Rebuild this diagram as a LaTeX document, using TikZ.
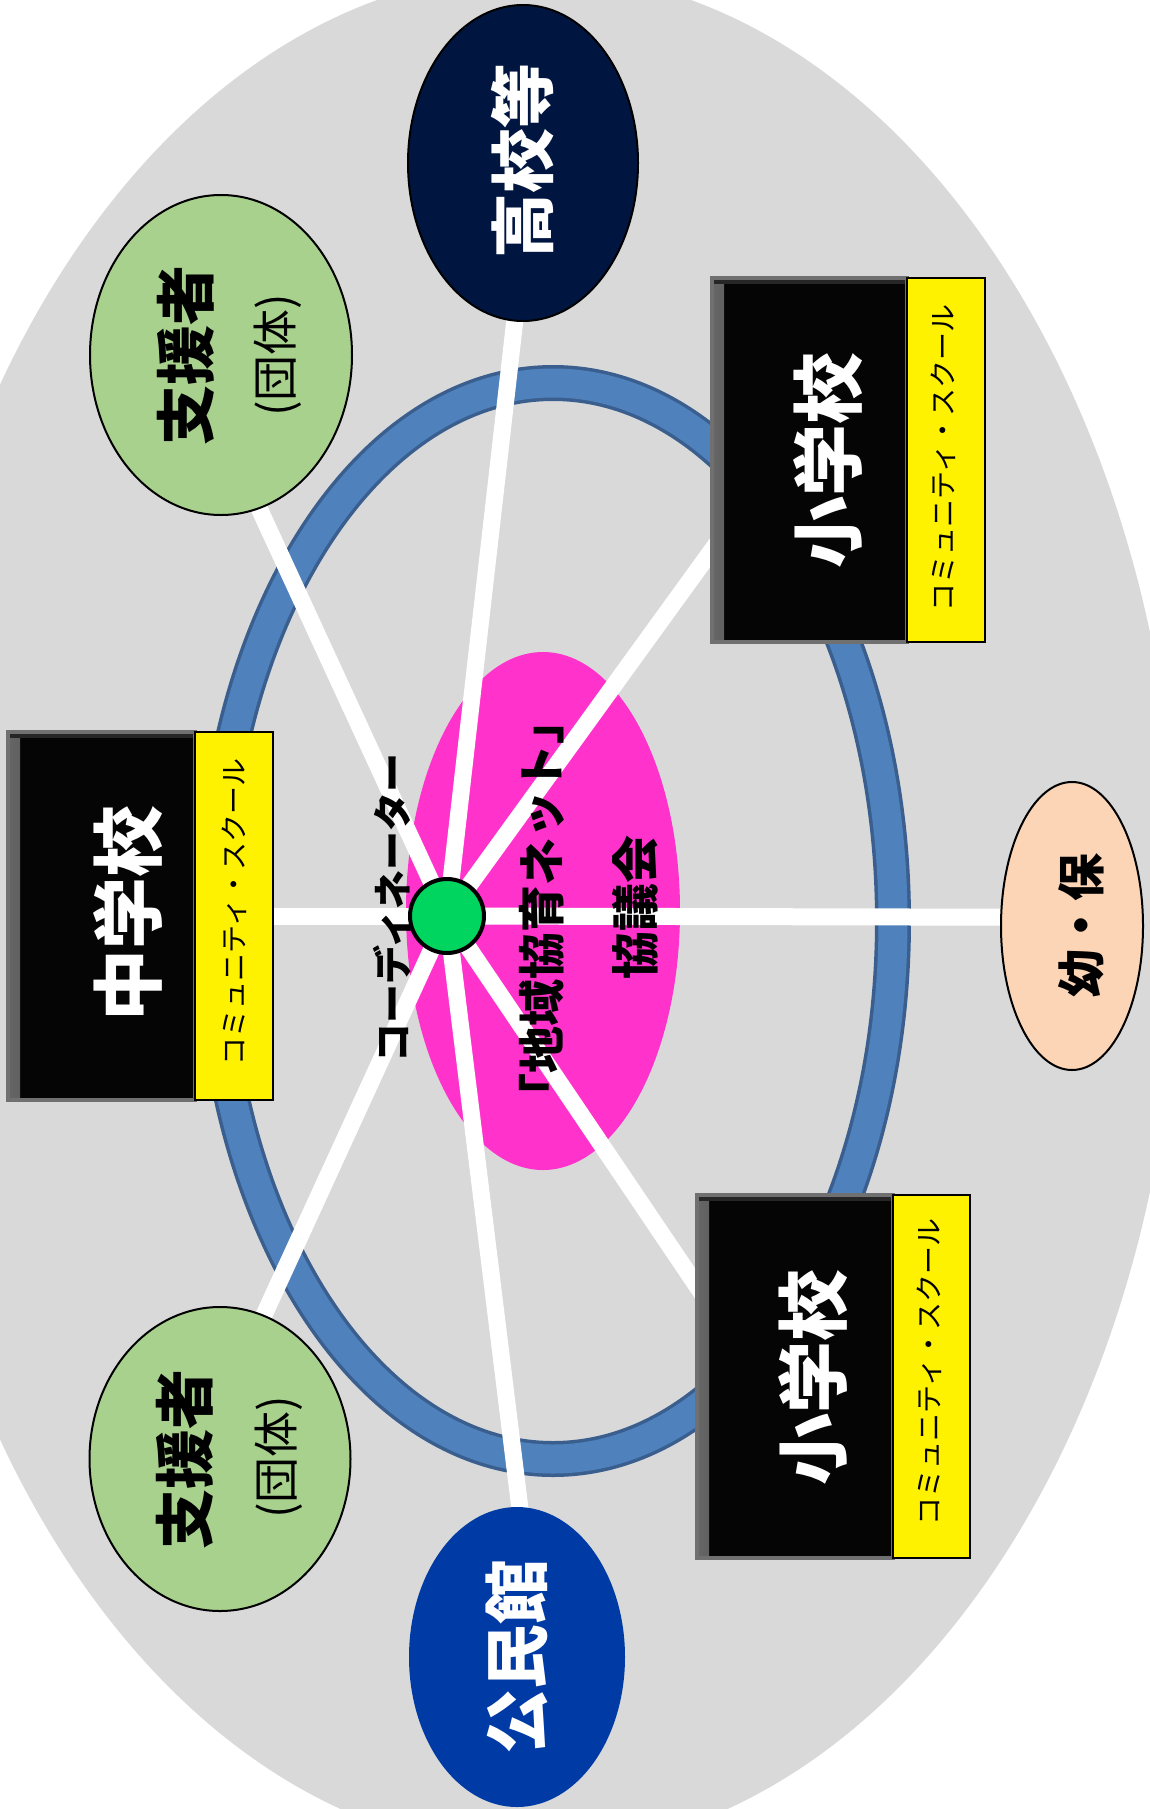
\documentclass[tikz,border=0pt]{standalone}
\usepackage{fontspec}
\setmainfont{Noto Sans CJK JP}
\usetikzlibrary{shapes.geometric,calc}
\pgfdeclarelayer{bg}
\pgfdeclarelayer{spokes}
\pgfsetlayers{bg,spokes,main}
\newcommand\fsz[1]{\fontsize{#1}{#1}\selectfont}
\definecolor{bggray}{HTML}{D9D9D9}
\definecolor{ringblue}{HTML}{4F81BD}
\definecolor{ringdark}{HTML}{3A5F8E}
\definecolor{pinkc}{HTML}{FF33CC}
\definecolor{gdot}{HTML}{00D65F}
\definecolor{navyc}{HTML}{001641}
\definecolor{kblue}{HTML}{003AA5}
\definecolor{sgreen}{HTML}{A9D18E}
\definecolor{peach}{HTML}{FBD5B5}
\definecolor{blkfill}{HTML}{050505}
\definecolor{bevel}{HTML}{707070}
\tikzset{
  oval/.style={ellipse, draw=black, line width=2, inner sep=0},
  blkbox/.style={rectangle, fill=blkfill, draw=bevel, line width=4, inner sep=0,
    path picture={
      \shade[left color=black!60, right color=blkfill]
        (path picture bounding box.south west) rectangle
        ([xshift=12]path picture bounding box.north west);
      \fill[black!85] ([yshift=-6]path picture bounding box.north west) rectangle
        (path picture bounding box.north east);
    }},
  ylwbox/.style={rectangle, fill=yellow, draw=black, line width=2.5, inner sep=0},
  spoke/.style={draw=white, line width=17, shorten >=-14},
  rtxt/.style={rotate=90, inner sep=0, anchor=center},
  bigw/.style={rtxt, text=white, font=\fsz{72}\bfseries},
  ovw/.style={rtxt, text=white, font=\fsz{65}\bfseries},
  cstxt/.style={rtxt, text=black, font=\fsz{28}},
}
\begin{document}
\begin{tikzpicture}[x=1pt,y=1pt]
\useasboundingbox (0,0) rectangle (1150,-1809);
\begin{pgfonlayer}{bg}
  \fill[white] (0,0) rectangle (1150,-1809);
  \fill[bggray] (534,-912) ellipse [x radius=645, y radius=940];
  \draw[ringdark, line width=36] (553,-921) ellipse [x radius=340, y radius=538];
  \draw[ringblue, line width=29] (553,-921) ellipse [x radius=340, y radius=538];
  \fill[pinkc] (543,-911) ellipse [x radius=137, y radius=259];
\end{pgfonlayer}

% outer nodes
\node[oval, fill=navyc, minimum width=230, minimum height=316] (kou) at (523,-163) {};
\node[oval, draw=none, fill=kblue, minimum width=216, minimum height=300] (kom) at (517,-1657) {};
\node[oval, fill=sgreen, minimum width=262, minimum height=320] (sup1) at (221,-355) {};
\node[oval, fill=sgreen, minimum width=261, minimum height=304] (sup2) at (220,-1459) {};
\node[oval, fill=peach, minimum width=142, minimum height=288] (yo) at (1072,-926) {};

\node[blkbox, minimum width=187, minimum height=368] (js) at (101.5,-916) {};
\node[ylwbox, minimum width=78, minimum height=368] (jsy) at (234,-916) {};
\node[blkbox, minimum width=195, minimum height=364] (es1) at (809.5,-460) {};
\node[ylwbox, minimum width=78, minimum height=364] (es1y) at (946,-460) {};
\node[blkbox, minimum width=196, minimum height=363] (es2) at (795,-1376.5) {};
\node[ylwbox, minimum width=77, minimum height=363] (es2y) at (931.5,-1376.5) {};

% centre
\node[circle, fill=gdot, draw=black, line width=4, minimum size=74, inner sep=0] (g) at (447,-916) {};

% spokes
\begin{pgfonlayer}{spokes}
  \draw[spoke] (g.center) -- (kou.267);
  \draw[spoke] (g.center) -- (sup1.-76);
  \draw[spoke] (g.center) -- (jsy.east);
  \draw[spoke] (g.center) -- (sup2.73);
  \draw[spoke] (g.center) -- (kom.89);
  \draw[spoke] (g.center) -- (es2.137);
  \draw[spoke] (g.center) -- (yo.173);
  \draw[spoke] (g.center) -- (es1.223);
\end{pgfonlayer}

% texts
\node[bigw] (tjs) at (128,-913) {中学校};
\node[bigw] (tes1) at (828,-460) {小学校};
\node[bigw] (tes2) at (813,-1377) {小学校};
\node[cstxt] (cs1) at (234,-912) {コミュニティ・スクール};
\node[cstxt] (cs2) at (943,-458) {コミュニティ・スクール};
\node[cstxt] (cs3) at (929,-1372) {コミュニティ・スクール};
\node[ovw] (tkou) at (523,-161) {高校等};
\node[ovw] (tkom) at (517,-1657) {公民館};
\node[rtxt, font=\fsz{60}\bfseries] (ts1) at (186,-355) {支援者};
\node[rtxt, font=\fsz{46}] (ts1b) at (278,-355) {(団体)};
\node[rtxt, font=\fsz{60}\bfseries] (ts2) at (185,-1459) {支援者};
\node[rtxt, font=\fsz{46}] (ts2b) at (279,-1457) {(団体)};
\node[rtxt, font=\fsz{48}\bfseries] (tyo) at (1081,-925) {幼・保};
\node[rtxt, font=\fsz{47}\bfseries] (tnet) at (542,-909) {「地域協育ネット」};
\node[rtxt, font=\fsz{48}\bfseries] (tkyo) at (635,-907) {協議会};
\node[rtxt, font=\fsz{39}\bfseries] (tcoord) at (392,-908) {コーディネーター};
\end{tikzpicture}
\end{document}
